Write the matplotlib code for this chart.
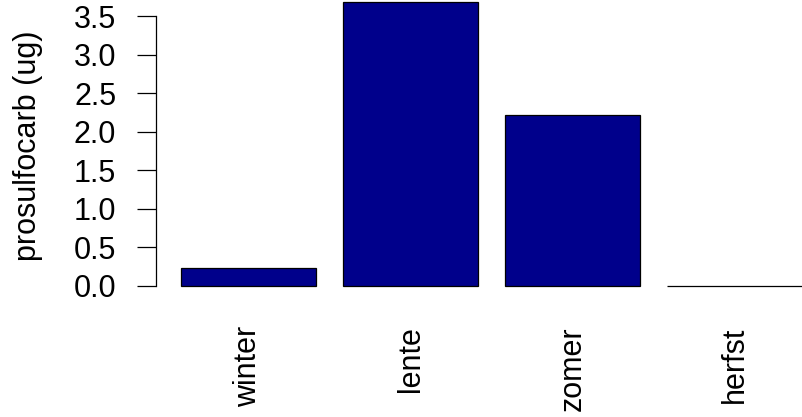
import numpy as np
import matplotlib
matplotlib.use("Agg")
import matplotlib.pyplot as plt

plt.rcParams['font.family'] = ['Liberation Sans', 'DejaVu Sans']

# data
seasons = ["winter", "lente", "zomer", "herfst"]
prosulfocarb = [0.23, 3.69, 2.22, 0.0]
yticks = [0.0, 0.5, 1.0, 1.5, 2.0, 2.5, 3.0, 3.5]

# R barplot style layout: width 1, space 0.2, 4% axis padding
width = 1.0
space = 0.2
lefts = space + np.arange(len(seasons)) * (width + space)
centers = lefts + width / 2
xmin, xmax = lefts[0], lefts[-1] + width
xpad = 0.04 * (xmax - xmin)
ymax = max(prosulfocarb)
ypad = 0.04 * ymax

fig = plt.figure(figsize=(8.02, 4.17), dpi=100)
ax = fig.add_axes([156.2 / 802, (417 - 297.06) / 417, 670.6 / 802, 306.6 / 417])

ax.bar(centers, prosulfocarb, width=width, color='#00008B',
       edgecolor='black', linewidth=0.9)

ax.set_xlim(xmin - xpad, xmax + xpad)
ax.set_ylim(0 - ypad, ymax + ypad)

for s in ['top', 'right', 'bottom']:
    ax.spines[s].set_visible(False)
ax.spines['left'].set_bounds(yticks[0], yticks[-1])
ax.spines['left'].set_linewidth(0.9)

ax.set_yticks(yticks)
ax.set_yticklabels(["%.1f" % t for t in yticks])
ax.tick_params(axis='y', length=13.7, width=0.9, pad=15, labelsize=22)

ax.set_xticks(centers)
ax.set_xticklabels(seasons, rotation=90, va='top', ha='center')
ax.tick_params(axis='x', length=0, pad=21, labelsize=22)

ax.set_ylabel("prosulfocarb (ug)", fontsize=22)
ax.yaxis.set_label_coords((28.5 - 156.2) / 670.6, 1 - (145.5 + 9.54) / 306.6)
ax.yaxis.label.set_verticalalignment('center')

fig.savefig("out.png", dpi=100)
